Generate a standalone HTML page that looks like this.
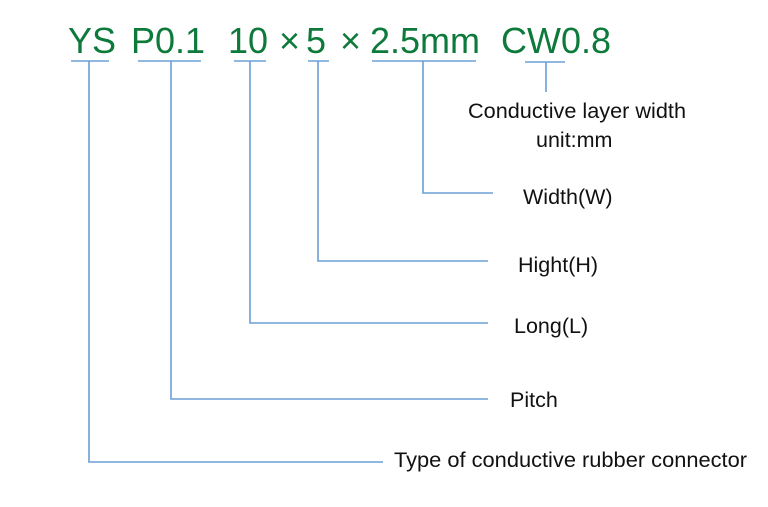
<!DOCTYPE html>
<html>
<head>
<meta charset="utf-8">
<style>
  html, body { margin: 0; padding: 0; background: #ffffff; }
  body { width: 768px; height: 507px; overflow: hidden; }
  svg { display: block; }
  .t { font-family: "Liberation Sans", Arial, sans-serif; font-size: 36px; fill: #0d7a3b; }
  .l { font-family: "Liberation Sans", Arial, sans-serif; font-size: 21.5px; fill: #111111; }
  .ln { stroke: #6a9fd6; stroke-width: 1.6; fill: none; }
</style>
</head>
<body>
<svg width="768" height="507" viewBox="0 0 768 507" xmlns="http://www.w3.org/2000/svg">
  <!-- Title -->
  <text class="t" x="68" y="53">YS</text>
  <text class="t" x="131" y="53">P0.1</text>
  <text class="t" x="228" y="53">10</text>
  <text class="t" x="279" y="53">×</text>
  <text class="t" x="306" y="53">5</text>
  <text class="t" x="340" y="53">×</text>
  <text class="t" x="370" y="53">2.5mm</text>
  <text class="t" x="501" y="53">CW0.8</text>

  <!-- Underlines -->
  <line class="ln" x1="71" y1="61" x2="109" y2="61"/>
  <line class="ln" x1="138" y1="61" x2="201" y2="61"/>
  <line class="ln" x1="234" y1="61" x2="266" y2="61"/>
  <line class="ln" x1="308" y1="61" x2="329" y2="61"/>
  <line class="ln" x1="372" y1="61" x2="476" y2="61"/>
  <line class="ln" x1="525" y1="62" x2="565" y2="62"/>

  <!-- Connectors -->
  <polyline class="ln" points="89,61 89,462 383,462"/>
  <polyline class="ln" points="171,61 171,399 488,399"/>
  <polyline class="ln" points="250,61 250,323 488,323"/>
  <polyline class="ln" points="318,61 318,261 488,261"/>
  <polyline class="ln" points="423,61 423,193 493,193"/>
  <line class="ln" x1="546" y1="62" x2="546" y2="92"/>

  <!-- Labels -->
  <text class="l" x="468" y="118" textLength="218" lengthAdjust="spacingAndGlyphs">Conductive layer width</text>
  <text class="l" x="536" y="147">unit:mm</text>
  <text class="l" x="523" y="204">Width(W)</text>
  <text class="l" x="518" y="272">Hight(H)</text>
  <text class="l" x="514" y="333">Long(L)</text>
  <text class="l" x="510" y="407">Pitch</text>
  <text class="l" x="394" y="467" textLength="353" lengthAdjust="spacingAndGlyphs">Type of conductive rubber connector</text>
</svg>
</body>
</html>
